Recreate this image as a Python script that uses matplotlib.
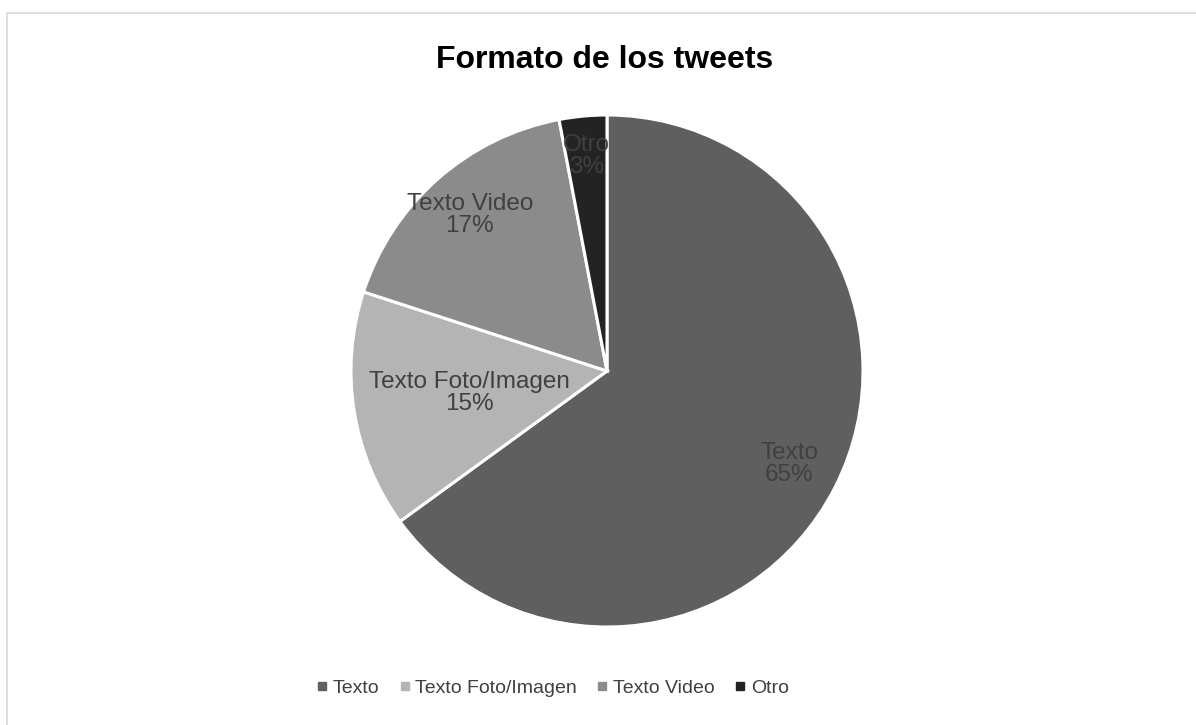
import matplotlib
matplotlib.use("Agg")
import numpy as np
import matplotlib.pyplot as plt
from matplotlib.lines import Line2D
from matplotlib.patches import Rectangle

plt.rcParams['font.family'] = ['Liberation Sans', 'DejaVu Sans']

# tweet formats and their share (%)
categories = ['Texto', 'Texto Foto/Imagen', 'Texto Video', 'Otro']
shares = [65, 15, 17, 3]
colors = ['#5f5f5f', '#b4b4b4', '#8b8b8b', '#232323']
label_dist = [0.80, 0.545, 0.81, 0.845]

W, H = 1196, 725
fig = plt.figure(figsize=(W / 100, H / 100), dpi=100)

# light grey chart frame
fig.patches.append(Rectangle((6.5 / W, -0.5), 2.0, 1.5 - 12.5 / H,
                             transform=fig.transFigure, fill=False,
                             edgecolor='#d9d9d9', linewidth=1.2))

cx, cy, r = 607, 371, 256
ax = fig.add_axes([(cx - r) / W, (H - cy - r) / H, 2 * r / W, 2 * r / H])
wedges, _ = ax.pie(shares, colors=colors, startangle=90, counterclock=False,
                   radius=1.0,
                   wedgeprops=dict(edgecolor='white', linewidth=2.2))
ax.set_xlim(-1, 1)
ax.set_ylim(-1, 1)
ax.axis('off')

for w, cat, val, d in zip(wedges, categories, shares, label_dist):
    mid = np.deg2rad((w.theta1 + w.theta2) / 2)
    ax.text(d * np.cos(mid), d * np.sin(mid), f'{cat}\n{val}%',
            ha='center', va='center', ma='center', fontsize=17.5,
            color='#404040', linespacing=1.0)

fig.text(605 / W, 1 - 68 / H, 'Formato de los tweets', ha='center',
         va='baseline', fontsize=23, fontweight='bold', color='black')

handles = [Line2D([], [], marker='s', linestyle='none', markersize=5.5,
                  markerfacecolor=c, markeredgecolor=c) for c in colors]
fig.legend(handles, categories, loc='center', ncol=4, frameon=False,
           bbox_to_anchor=(553 / W, 1 - 688 / H), fontsize=14,
           labelcolor='#404040', handlelength=0.5, handletextpad=0.3,
           columnspacing=1.05, borderaxespad=0)

fig.savefig('out.png', dpi=100)
